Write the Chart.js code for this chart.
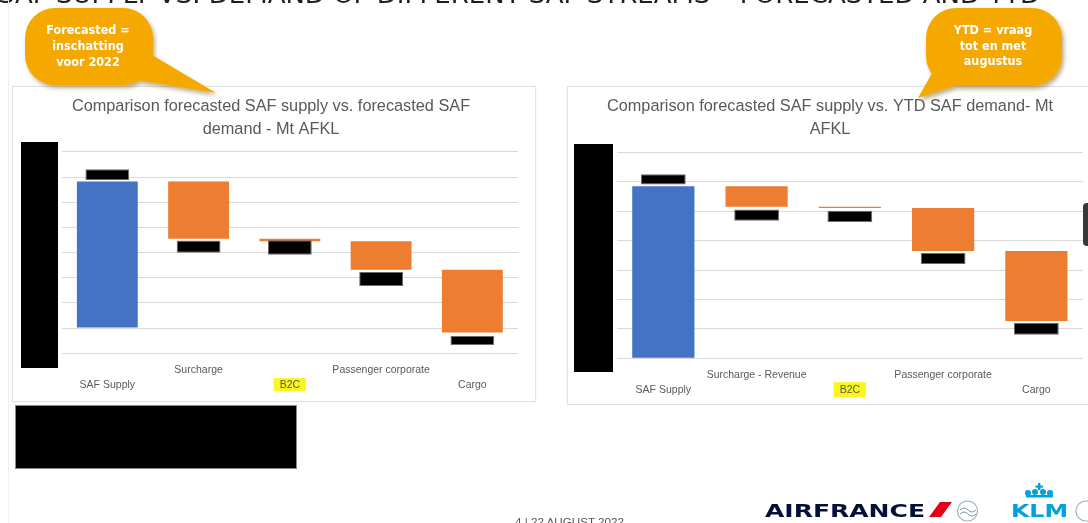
<!DOCTYPE html>
<html lang="nl">
<head>
<meta charset="utf-8">
<title>SAF supply vs. demand</title>
<script src="https://cdn.jsdelivr.net/npm/chart.js@4.4.1/dist/chart.umd.min.js"></script>
<style>
    html, body { margin: 0; padding: 0; }
    body {
        width: 1088px;
        height: 523px;
        position: relative;
        overflow: hidden;
        background: #ffffff;
        font-family: 'Liberation Sans', Arial, sans-serif;
    }
    .panel {
        position: absolute;
        border: 1px solid #e2e2e2;
        box-shadow: 0 0 2px rgba(0, 0, 0, 0.06);
        background: #ffffff;
    }
    canvas { position: absolute; }
    #decor { position: absolute; left: 0; top: 0; pointer-events: none; }
</style>
</head>
<body>

<div class="panel" style="left:12px; top:86px; width:522px; height:314px;"></div>
<div class="panel" style="left:567px; top:86px; width:530px; height:317px;"></div>

<canvas id="chartForecast" width="522" height="313" style="left:12px; top:87px;"></canvas>
<canvas id="chartYtd" width="522" height="316" style="left:568px; top:87px;"></canvas>

<svg id="decor" width="1088" height="523" xmlns="http://www.w3.org/2000/svg">
    <defs>
        <filter id="bubbleShadow" x="-20%" y="-20%" width="150%" height="150%">
            <feDropShadow dx="2" dy="3" stdDeviation="2" flood-color="#6b4a00" flood-opacity="0.45"/>
        </filter>
    </defs>

    <!-- slide title, cut off at the top edge -->
    <text x="-2" y="3" font-family="DejaVu Sans, Liberation Sans, sans-serif" font-size="25" fill="#1e1e1e"
          textLength="1042" lengthAdjust="spacingAndGlyphs">SAF SUPPLY VS. DEMAND OF DIFFERENT SAF STREAMS – FORECASTED AND YTD</text>

    <line x1="8.5" y1="0" x2="8.5" y2="523" stroke="#efefef" stroke-width="1"/>

    <!-- redacted axis values -->
    <rect x="21" y="142" width="37" height="226" fill="#000"/>
    <rect x="574" y="144" width="39" height="228" fill="#000"/>
    <rect x="15.5" y="405.5" width="281" height="63" fill="#000" stroke="#8a8a8a" stroke-width="1"/>

    <!-- callouts -->
    <g filter="url(#bubbleShadow)" fill="#F5A800">
        <rect x="25" y="8" width="128" height="77" rx="30" ry="30"/>
        <polygon points="130,42 216,93 124,78"/>
        <rect x="926" y="8" width="136" height="78" rx="30" ry="30"/>
        <polygon points="936,66 918,98 964,83"/>
    </g>
    <g font-family="Liberation Sans Narrow, DejaVu Sans Condensed, Liberation Sans, sans-serif" font-weight="bold"
       font-size="12.5" fill="#ffffff" text-anchor="middle">
        <text x="88" y="34">Forecasted =</text>
        <text x="88" y="50">inschatting</text>
        <text x="88" y="66">voor 2022</text>
        <text x="993" y="34">YTD = vraag</text>
        <text x="993" y="50">tot en met</text>
        <text x="993" y="65">augustus</text>
    </g>

    <!-- footer -->
    <text x="515" y="525.5" font-family="Liberation Sans, sans-serif" font-size="11.5" fill="#555"
          textLength="109" lengthAdjust="spacingAndGlyphs">4  |  22 AUGUST 2022</text>

    <!-- logos -->
    <text x="765" y="517" font-family="DejaVu Sans, sans-serif" font-weight="bold" font-size="18" fill="#051039"
          textLength="160" lengthAdjust="spacingAndGlyphs">AIRFRANCE</text>
    <polygon points="929,517 940,502 952,502 941,517" fill="#e2001a"/>
    <circle cx="967.5" cy="511" r="10" fill="none" stroke="#9fb2c6" stroke-width="1.2"/>
    <path d="M960 510 q4 -4 8 0 t8 0 M960 514 q4 -4 8 0 t8 0" fill="none" stroke="#7f97b0" stroke-width="1"/>
    <text x="1011" y="517" font-family="DejaVu Sans, sans-serif" font-weight="bold" font-size="18" fill="#00a1de"
          textLength="57" lengthAdjust="spacingAndGlyphs">KLM</text>
    <g fill="#00a1de">
        <rect x="1038" y="483" width="2.4" height="7"/>
        <rect x="1035.5" y="485.5" width="7.4" height="2.2"/>
        <circle cx="1028" cy="493" r="3"/>
        <circle cx="1035" cy="492" r="3"/>
        <circle cx="1043" cy="492" r="3"/>
        <circle cx="1050" cy="493" r="3"/>
        <rect x="1026" y="495" width="27" height="2.5"/>
    </g>
    <circle cx="1086" cy="511" r="10" fill="none" stroke="#9fb2c6" stroke-width="1.2"/>

    <!-- dark tab on the right edge -->
    <rect x="1083" y="203" width="12" height="43" rx="4" fill="#383838"/>
</svg>

<script>
// ============================================
// SAF supply vs. demand - two waterfall charts
// ============================================

// categories
const forecastCategories = ['SAF Supply', 'Surcharge', 'B2C', 'Passenger corporate', 'Cargo'];
const ytdCategories = ['SAF Supply', 'Surcharge - Revenue', 'B2C', 'Passenger corporate', 'Cargo'];
const highlightCategory = 'B2C';

// forecasted demand (Mt) - bar start / end
const forecastFrom = [0, 5.82, 3.55, 3.45, 2.32];
const forecastTo = [5.82, 3.55, 3.45, 2.32, -0.17];
// redacted data labels (black boxes)
const forecastLabelFrom = [5.88, 2.99, 2.91, 1.67, -0.67];
const forecastLabelTo = [6.31, 3.48, 3.49, 2.23, -0.30];
const forecastAxis = [-1, 7, 1];   // min, max, step

// YTD demand (Mt)
const ytdFrom = [0, 5.85, 5.16, 5.11, 3.65];
const ytdTo = [5.85, 5.16, 5.11, 3.65, 1.27];
const ytdLabelFrom = [5.91, 4.68, 4.64, 3.21, 0.80];
const ytdLabelTo = [6.26, 5.06, 5.02, 3.58, 1.20];
const ytdAxis = [0, 7, 1];

// colours
const SUPPLY_COLOR = '#4472C4';
const DEMAND_COLOR = '#ED7D31';
const TEXT_COLOR = '#595959';
const GRID_COLOR = '#d9d9d9';
const TICK_FONT = { family: 'Liberation Sans, Arial, sans-serif', size: 10.5, lineHeight: 1.4 };
const TICK_PADDING = 9.3;

Chart.defaults.font.family = 'Liberation Sans, Arial, sans-serif';

// yellow marker behind one category label
const labelHighlight = {
    id: 'labelHighlight',
    beforeDraw(chart, args, opts) {
        const xScale = chart.scales.x;
        const idx = opts.index;
        if (idx < 0) return;
        const ctx = chart.ctx;
        const lineH = TICK_FONT.size * TICK_FONT.lineHeight;
        ctx.save();
        ctx.font = TICK_FONT.size + 'px ' + TICK_FONT.family;
        const w = ctx.measureText(opts.text).width + 12;
        const x = xScale.getPixelForTick(idx);
        const y = xScale.top + TICK_PADDING + lineH * 1.5;
        ctx.fillStyle = opts.color;
        ctx.fillRect(x - w / 2, y - opts.height / 2, w, opts.height);
        ctx.restore();
    }
};

// staggered two-row category labels
function staggerLabels(categories) {
    return categories.map((c, i) => (i % 2 === 1 ? [c, ''] : ['', c]));
}

function buildWaterfall(canvasId, cfg) {
    const ctx = document.getElementById(canvasId).getContext('2d');
    const bars = cfg.categories.map((c, i) => [cfg.from[i], cfg.to[i]]);
    const boxes = cfg.categories.map((c, i) => [cfg.labelFrom[i], cfg.labelTo[i]]);

    return new Chart(ctx, {
        type: 'bar',
        data: {
            labels: staggerLabels(cfg.categories),
            datasets: [
                {
                    label: 'SAF',
                    data: bars,
                    backgroundColor: (c) => (c.dataIndex === 0 ? SUPPLY_COLOR : DEMAND_COLOR),
                    borderWidth: 0,
                    grouped: false,
                    categoryPercentage: 1,
                    barPercentage: 0.667,
                    order: 1
                },
                {
                    label: 'labels',
                    data: boxes,
                    backgroundColor: '#000000',
                    borderColor: '#6b6b6b',
                    borderWidth: 1,
                    borderSkipped: false,
                    grouped: false,
                    categoryPercentage: 1,
                    barPercentage: 0.48,
                    order: 0
                }
            ]
        },
        options: {
            responsive: false,
            animation: false,
            layout: { padding: cfg.padding },
            plugins: {
                legend: { display: false },
                tooltip: { enabled: false },
                title: {
                    display: true,
                    text: cfg.title,
                    color: TEXT_COLOR,
                    font: { size: 16.3, weight: 'normal', lineHeight: 1.4 },
                    padding: { top: 0, bottom: cfg.titleGap }
                },
                labelHighlight: {
                    index: cfg.categories.indexOf(highlightCategory),
                    text: highlightCategory,
                    color: '#fbf520',
                    height: cfg.highlightHeight
                }
            },
            scales: {
                x: {
                    grid: { display: false, drawTicks: false },
                    border: { display: false },
                    ticks: {
                        color: TEXT_COLOR,
                        font: TICK_FONT,
                        padding: TICK_PADDING,
                        maxRotation: 0,
                        autoSkip: false
                    },
                    afterFit: (scale) => { scale.height = cfg.xHeight; }
                },
                y: {
                    min: cfg.axis[0],
                    max: cfg.axis[1],
                    ticks: { display: false, stepSize: cfg.axis[2] },
                    grid: { color: GRID_COLOR, lineWidth: 1, drawTicks: false },
                    border: { display: false },
                    afterFit: (scale) => { scale.width = cfg.yWidth; }
                }
            }
        },
        plugins: [labelHighlight]
    });
}

buildWaterfall('chartForecast', {
    categories: forecastCategories,
    from: forecastFrom,
    to: forecastTo,
    labelFrom: forecastLabelFrom,
    labelTo: forecastLabelTo,
    axis: forecastAxis,
    title: ['Comparison forecasted SAF supply vs. forecasted SAF', 'demand - Mt AFKL'],
    padding: { left: 12, right: 16, top: 8, bottom: 0 },
    titleGap: 11.2,
    yWidth: 37.7,
    xHeight: 46.7,
    highlightHeight: 13
});

buildWaterfall('chartYtd', {
    categories: ytdCategories,
    from: ytdFrom,
    to: ytdTo,
    labelFrom: ytdLabelFrom,
    labelTo: ytdLabelTo,
    axis: ytdAxis,
    title: ['Comparison forecasted SAF supply vs. YTD SAF demand- Mt', 'AFKL'],
    padding: { left: 9, right: 7, top: 8, bottom: 0 },
    titleGap: 11.9,
    yWidth: 39.7,
    xHeight: 44.7,
    highlightHeight: 15
});
</script>
</body>
</html>
